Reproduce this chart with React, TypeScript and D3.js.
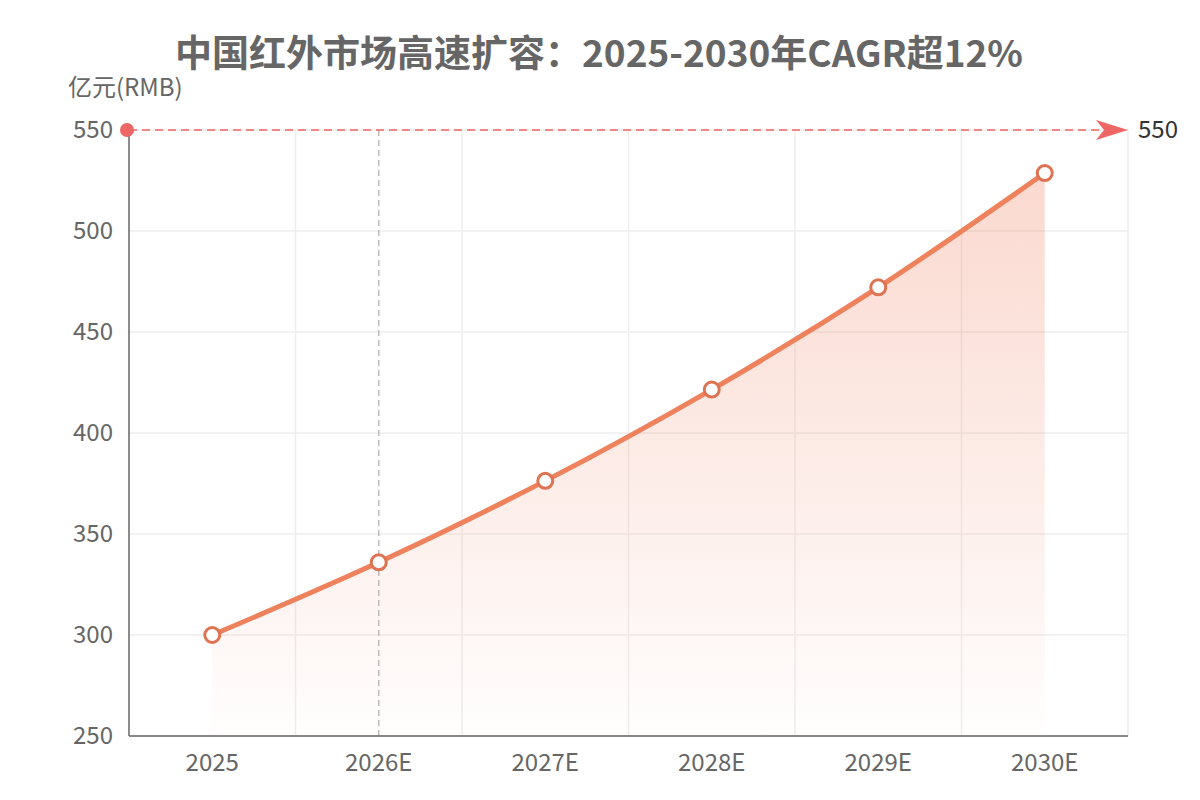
import React from 'react'
import * as d3 from 'd3'

const years = ['2025', '2026E', '2027E', '2028E', '2029E', '2030E']
const marketSize = [300, 336, 376.3, 421.5, 472.1, 528.7]
const yTicks = [250, 300, 350, 400, 450, 500, 550]
const targetValue = 550
const highlightYear = '2026E'

const FONT = '"Noto Sans CJK SC", "Noto Sans", sans-serif'

export default function App() {
  const width = 1200
  const height = 800
  const margin = { top: 130, right: 72, bottom: 64, left: 129 }
  const innerW = width - margin.left - margin.right
  const innerH = height - margin.top - margin.bottom

  const x = d3.scaleBand().domain(years).range([0, innerW])
  const y = d3.scaleLinear().domain([250, 550]).range([innerH, 0])
  const cx = (d: string) => (x(d) as number) + x.bandwidth() / 2

  const pts: [number, number][] = years.map((d, i) => [cx(d), y(marketSize[i])])

  const line = d3.line().curve(d3.curveCatmullRom.alpha(0.5))
  const area = d3.area()
    .x(d => d[0])
    .y0(innerH)
    .y1(d => d[1])
    .curve(d3.curveCatmullRom.alpha(0.5))

  // split lines at band boundaries
  const vGrid = years.map((d) => (x(d) as number) + x.bandwidth())

  return (
    <svg width={width} height={height} style={{ position: 'absolute', left: 0, top: 0, fontFamily: FONT }}>
      <defs>
        <linearGradient id="areaFill" x1="0" y1="0" x2="0" y2="1">
          <stop offset="0%" stopColor="rgb(240,128,96)" stopOpacity={0.3} />
          <stop offset="100%" stopColor="rgb(240,128,96)" stopOpacity={0.01} />
        </linearGradient>
      </defs>
      <rect width={width} height={height} fill="#fff" />
      <text x={599} y={67} textAnchor="middle" fontSize={37} fontWeight="bold" fill="#666">
        中国红外市场高速扩容：2025-2030年CAGR超12%
      </text>
      <text x={68} y={96} fontSize={24} fill="#666">亿元(RMB)</text>

      <g transform={`translate(${margin.left},${margin.top})`}>
        {yTicks.map(t => (
          <line key={'h' + t} x1={0} x2={innerW} y1={y(t)} y2={y(t)} stroke="#eee" strokeWidth={1.5} />
        ))}
        {vGrid.map((gx, i) => (
          <line key={'v' + i} x1={gx} x2={gx} y1={0} y2={innerH} stroke="#eee" strokeWidth={1.5} />
        ))}

        <path d={area(pts) || ''} fill="url(#areaFill)" />

        <line x1={cx(highlightYear)} x2={cx(highlightYear)} y1={0} y2={innerH}
          stroke="#bbb" strokeWidth={1.5} strokeDasharray="6,4" />

        <line x1={0} x2={0} y1={0} y2={innerH} stroke="#666" strokeWidth={1.5} />
        <line x1={0} x2={innerW} y1={innerH} y2={innerH} stroke="#666" strokeWidth={1.5} />

        {yTicks.map(t => (
          <text key={'yl' + t} x={-16} y={y(t)} dy="0.35em" textAnchor="end" fontSize={24} fill="#666">{t}</text>
        ))}
        {years.map(d => (
          <text key={'xl' + d} x={cx(d)} y={innerH + 35} textAnchor="middle" fontSize={24} fill="#666">{d}</text>
        ))}

        <path d={line(pts) || ''} fill="none" stroke="#EE825D" strokeWidth={5} strokeLinejoin="round" />
        {pts.map((p, i) => (
          <circle key={'p' + i} cx={p[0]} cy={p[1]} r={7.5} fill="#fff" stroke="#DD7352" strokeWidth={3} />
        ))}

        {/* target mark line */}
        <line x1={0} x2={innerW - 14} y1={y(targetValue)} y2={y(targetValue)}
          stroke="#EE6666" strokeWidth={1.5} strokeDasharray="8,5" />
        <circle cx={-2} cy={y(targetValue)} r={7} fill="#EE6666" />
        <path d={`M${innerW - 32},${y(targetValue) - 10} L${innerW},${y(targetValue)} L${innerW - 32},${y(targetValue) + 10} L${innerW - 24},${y(targetValue)} Z`}
          fill="#EE6666" />
        <text x={innerW + 10} y={y(targetValue)} dy="0.35em" fontSize={24} fill="#333">{targetValue}</text>
      </g>
    </svg>
  )
}
